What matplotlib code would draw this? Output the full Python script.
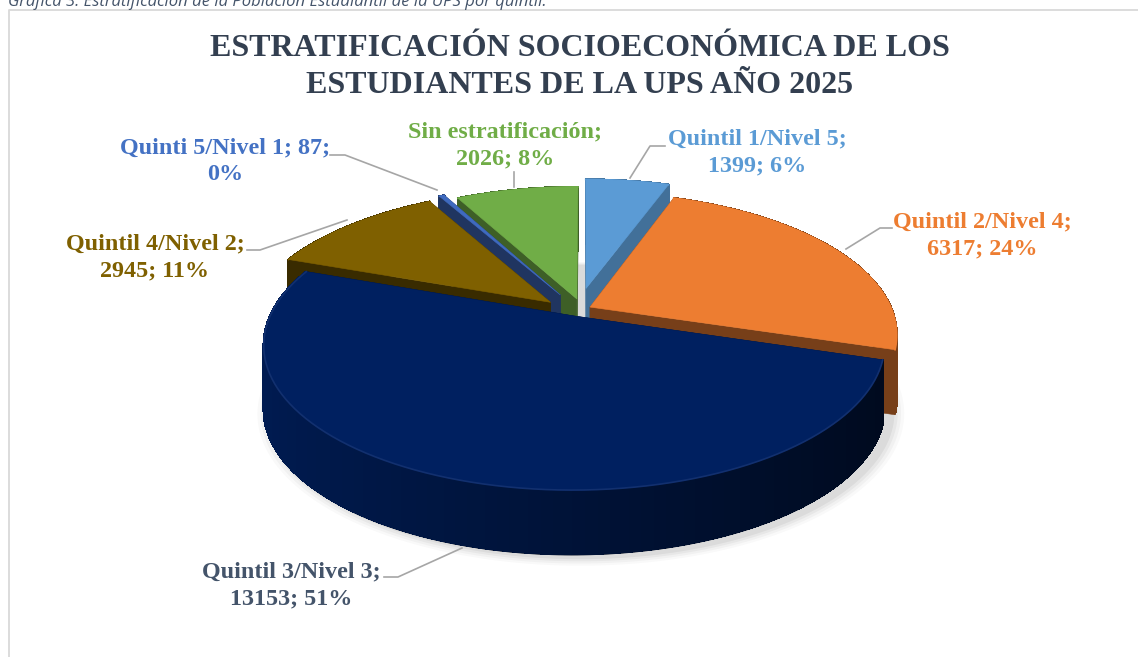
import numpy as np
import matplotlib
matplotlib.use("Agg")
import matplotlib.pyplot as plt
from matplotlib.colors import to_rgb

categories = ["Quintil 1/Nivel 5", "Quintil 2/Nivel 4", "Quintil 3/Nivel 3",
              "Quintil 4/Nivel 2", "Quinti 5/Nivel 1", "Sin estratificación"]
values = [1399, 6317, 13153, 2945, 87, 2026]
percents = [6, 24, 51, 11, 0, 8]
offset_x = [0.007, 0.02, -0.031, -0.112, -0.08, -0.024]
offset_y = [0.11, -0.03, -0.095, 0.005, 0.06, 0.03]
slice_colors = ["#5b9bd5", "#ed7d31", "#002060", "#7f6000", "#3f6abf", "#70ad47"]
wall_light = [0.72, 0.5, 0.85, 0.45, 0.5, 0.55]
wall_dark = [0.72, 0.5, 0.3, 0.45, 0.5, 0.55]
label_colors = ["#5b9bd5", "#ed7d31", "#44546a", "#7f6000", "#4472c4", "#70ad47"]
# back slices first, front slice last
draw_order = [5, 4, 3, 0, 1, 2]

label_pos = [(757, 139), (982, 222), (291, 572), (155, 244), (225, 148), (505, 132)]
label_lines = [("Quintil 1/Nivel 5;", "1399; 6%"), ("Quintil 2/Nivel 4;", "6317; 24%"),
               ("Quintil 3/Nivel 3;", "13153; 51%"), ("Quintil 4/Nivel 2;", "2945; 11%"),
               ("Quinti 5/Nivel 1; 87;", "0%"), ("Sin estratificación;", "2026; 8%")]
leaders = [[(630, 178), (650, 146), (665, 146)], [(846, 249), (880, 228), (892, 228)],
           [(462, 548), (398, 577), (384, 577)], [(347, 220), (260, 250), (247, 250)],
           [(437, 190), (345, 155), (330, 155)], [(514, 187), (514, 172)]]

CX, CY = 584, 303
R, TILT, PERSP, DEPTH = 299, 135, 0.1916, 65


def project(x, y, z):
    w = 1 + PERSP * y
    return CX + R * x / w, CY - TILT * y / w - DEPTH * z


def shade(color, f):
    return tuple(min(c * f, 1) for c in to_rgb(color))


fig = plt.figure(figsize=(11.38, 6.57), dpi=100)
ax = fig.add_axes([0, 0, 1, 1])
ax.set_xlim(0, 1138)
ax.set_ylim(657, 0)
ax.axis("off")

# frame and the caption cut off above it
ax.plot([9, 9, 1138], [657, 10, 10], color="#d9d9d9", lw=1.3)
ax.text(8, 2, "Gráfica 3. Estratificación de la Población Estudiantil de la UPS por quintil.",
        fontsize=12, style="italic", family="Open Sans", color="#44546a", ha="left", va="center")

ax.text(580, 67, "ESTRATIFICACIÓN SOCIOECONÓMICA DE LOS\nESTUDIANTES DE LA UPS AÑO 2025",
        family="Liberation Serif", weight="bold", fontsize=23, color="#333f50",
        ha="center", va="center", linespacing=1.33)

fractions = np.array(values) / sum(values)
edges = np.concatenate([[0], np.cumsum(fractions)]) * 2 * np.pi

# soft shadow under the pie
for grow, alpha in [(1.04, 0.025), (1.03, 0.03), (1.02, 0.04), (1.01, 0.05)]:
    t = np.linspace(0, 2 * np.pi, 200)
    sx, sy = project(grow * np.sin(t) - 0.01, grow * np.cos(t) - 0.095, -1.03)
    ax.fill(sx, sy, color="black", alpha=alpha, lw=0, zorder=1)

z = 2
for i in draw_order:
    a0, a1 = edges[i], edges[i + 1]
    ox, oy = offset_x[i], offset_y[i]
    t = np.linspace(a0, a1, max(int((a1 - a0) * 60), 4))
    rx, ry = ox + np.sin(t), oy + np.cos(t)
    color = slice_colors[i]

    # radial walls
    for a in (a0, a1):
        ex, ey = ox + np.sin(a), oy + np.cos(a)
        p = [project(ox, oy, 0), project(ex, ey, 0), project(ex, ey, -1), project(ox, oy, -1)]
        ax.fill(*zip(*p), color=shade(color, wall_light[i] if wall_light[i] < 0.8 else 0.5),
                lw=0.4, zorder=z)

    # outer wall: outline first so its edge stays smooth, then the gradient strips
    top = project(rx, ry, 0)
    bottom = project(rx, ry, -1)
    ax.fill(np.r_[top[0], bottom[0][::-1]], np.r_[top[1], bottom[1][::-1]],
            color=shade(color, wall_dark[i]), lw=0.5, zorder=z)
    for j in range(len(t) - 1):
        k = (np.sin((t[j] + t[j + 1]) / 2) + 1) / 2
        light = wall_light[i] + (wall_dark[i] - wall_light[i]) * k
        p = [(top[0][j], top[1][j]), (top[0][j + 1], top[1][j + 1]),
             (bottom[0][j + 1], bottom[1][j + 1] - 1), (bottom[0][j], bottom[1][j] - 1)]
        ax.fill(*zip(*p), color=shade(color, light), lw=1.0, antialiased=False, zorder=z)

    # top face with a faint bevel along the rim
    tx, ty = project(np.r_[ox, rx], np.r_[oy, ry], 0 * np.r_[ox, rx])
    ax.fill(tx, ty, color=color, lw=0.4, zorder=z)
    ax.plot(top[0], top[1], color=color if i != 2 else "#12306f", lw=1.2, zorder=z)
    z += 1

for pts in leaders:
    ax.plot(*zip(*pts), color="#a6a6a6", lw=1.2, zorder=20)

for (x, y), (l1, l2), c in zip(label_pos, label_lines, label_colors):
    ax.text(x, y, l1, family="Liberation Serif", weight="bold", fontsize=17.4,
            color=c, ha="center", va="center", zorder=21)
    ax.text(x, y + 27, l2, family="Liberation Serif", weight="bold", fontsize=17.4,
            color=c, ha="center", va="center", zorder=21)

fig.savefig("out.png", dpi=100)
